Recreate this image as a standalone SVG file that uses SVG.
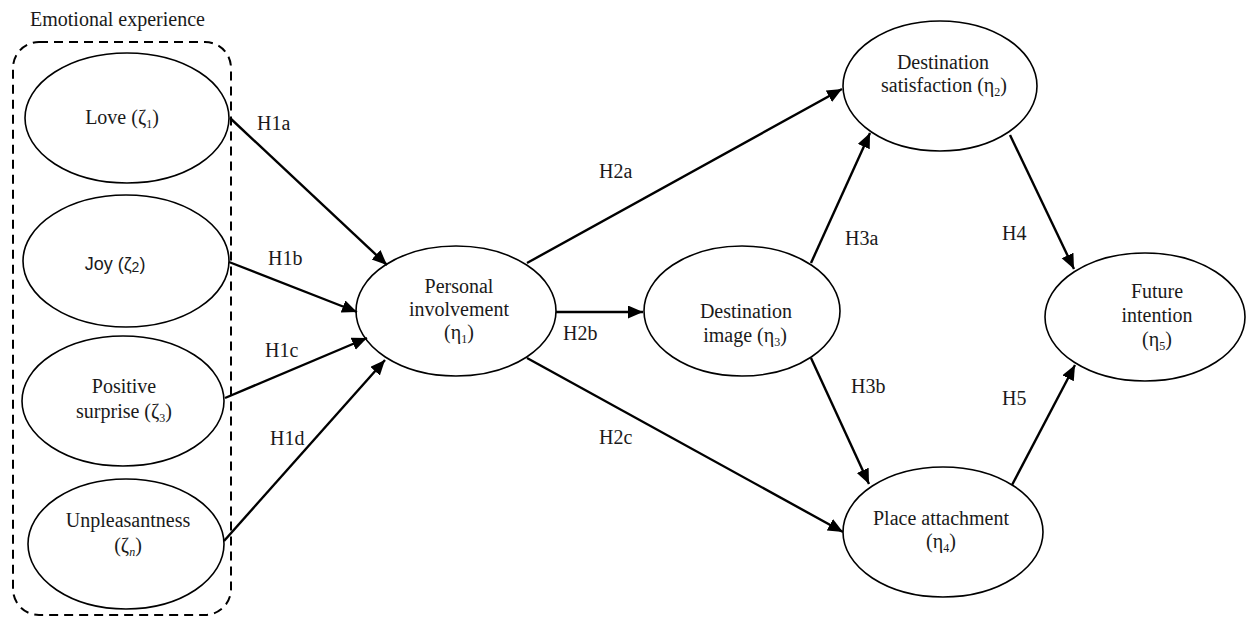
<svg xmlns="http://www.w3.org/2000/svg" width="1248" height="619" viewBox="0 0 1248 619">
<style>
.n{fill:#fff;stroke:#000;stroke-width:1.6}
.t{font-family:"Liberation Serif","Times New Roman",serif;font-size:20px;fill:#1a1a1a;text-anchor:middle}
.l{font-family:"Liberation Serif","Times New Roman",serif;font-size:20px;fill:#1a1a1a}
.s{font-size:12px}
.c{stroke:#000;stroke-width:2.4;fill:none;marker-end:url(#ah)}
</style>
<defs>
<marker id="ah" markerUnits="userSpaceOnUse" markerWidth="16" markerHeight="14" refX="15" refY="6.5" orient="auto">
<path d="M0,0 L15,6.5 L0,13 z" fill="#000"/>
</marker>
</defs>
<rect x="13" y="42" width="218" height="573" rx="26" fill="none" stroke="#000" stroke-width="2" stroke-dasharray="9 6"/>
<text class="l" x="30" y="26">Emotional experience</text>
<g id="love"><ellipse class="n" cx="127" cy="118" rx="102" ry="65"/><text class="t" x="122" y="124">Love (ζ<tspan class="s" dy="4">1</tspan><tspan dy="-4">)</tspan></text></g>
<g id="joy"><ellipse class="n" cx="126" cy="261" rx="103" ry="66"/><text x="115" y="270" text-anchor="middle" font-family="'Liberation Sans',Arial,sans-serif" font-size="18" fill="#1a1a1a">Joy (ζ<tspan font-size="14" dy="2">2</tspan><tspan dy="-2">)</tspan></text></g>
<g id="surprise"><ellipse class="n" cx="123" cy="401" rx="101" ry="65"/><text class="t" x="124" y="393">Positive</text><text class="t" x="124" y="418">surprise (ζ<tspan class="s" dy="4">3</tspan><tspan dy="-4">)</tspan></text></g>
<g id="unpleasant"><ellipse class="n" cx="126" cy="544" rx="98" ry="65"/><text class="t" x="128" y="527">Unpleasantness</text><text class="t" x="128" y="552">(ζ<tspan class="s" dy="4" font-style="italic">n</tspan><tspan dy="-4">)</tspan></text></g>
<g id="involvement"><ellipse class="n" cx="456" cy="311" rx="100" ry="65"/><text class="t" x="459" y="293">Personal</text><text class="t" x="459" y="316">involvement</text><text class="t" x="459" y="339">(η<tspan class="s" dy="4">1</tspan><tspan dy="-4">)</tspan></text></g>
<g id="image"><ellipse class="n" cx="742" cy="311" rx="98" ry="65"/><text class="t" x="746" y="318">Destination</text><text class="t" x="745" y="342">image (η<tspan class="s" dy="4">3</tspan><tspan dy="-4">)</tspan></text></g>
<g id="satisfaction"><ellipse class="n" cx="940" cy="86" rx="97" ry="65"/><text class="t" x="943" y="69">Destination</text><text class="t" x="944" y="92">satisfaction (η<tspan class="s" dy="4">2</tspan><tspan dy="-4">)</tspan></text></g>
<g id="attachment"><ellipse class="n" cx="943" cy="532" rx="100" ry="65"/><text class="t" x="941" y="525">Place attachment</text><text class="t" x="941" y="548">(η<tspan class="s" dy="4">4</tspan><tspan dy="-4">)</tspan></text></g>
<g id="future"><ellipse class="n" cx="1145" cy="317" rx="100" ry="64"/><text class="t" x="1157" y="298">Future</text><text class="t" x="1157" y="322">intention</text><text class="t" x="1157" y="346">(η<tspan class="s" dy="4">5</tspan><tspan dy="-4">)</tspan></text></g>
<g id="connectors">
<line class="c" x1="230" y1="118" x2="387" y2="265"/>
<line class="c" x1="229" y1="262" x2="357" y2="312"/>
<line class="c" x1="225" y1="398" x2="367" y2="338"/>
<line class="c" x1="224" y1="541" x2="385" y2="360"/>
<line class="c" x1="527" y1="263" x2="842" y2="89"/>
<line class="c" x1="556" y1="312" x2="643" y2="312"/>
<line class="c" x1="527" y1="358" x2="843" y2="532"/>
<line class="c" x1="811" y1="263" x2="870" y2="133"/>
<line class="c" x1="811" y1="358" x2="869" y2="484"/>
<line class="c" x1="1010" y1="135" x2="1074" y2="269"/>
<line class="c" x1="1012" y1="485" x2="1075" y2="365"/>
</g>
<g id="labels">
<text class="l" x="257" y="130">H1a</text>
<text class="l" x="268" y="265">H1b</text>
<text class="l" x="265" y="357">H1c</text>
<text class="l" x="270" y="445">H1d</text>
<text class="l" x="599" y="178">H2a</text>
<text class="l" x="563" y="340">H2b</text>
<text class="l" x="599" y="444">H2c</text>
<text class="l" x="845" y="245">H3a</text>
<text class="l" x="851" y="393">H3b</text>
<text class="l" x="1002" y="240">H4</text>
<text class="l" x="1002" y="405">H5</text>
</g>
</svg>
